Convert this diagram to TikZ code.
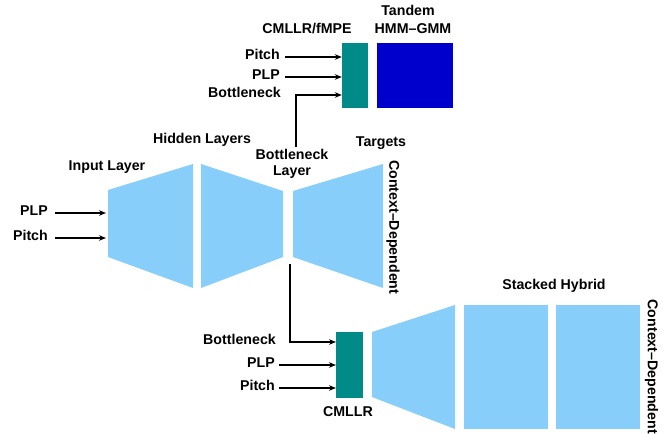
\documentclass[tikz,border=0pt]{standalone}
\usepackage{fontspec}
\setmainfont{Liberation Sans}
\usetikzlibrary{arrows.meta}
\definecolor{layerblue}{RGB}{135,206,250}
\definecolor{xformteal}{RGB}{0,139,136}
\definecolor{gmmblue}{RGB}{0,0,205}

\begin{document}
\begin{tikzpicture}[x=1pt, y=-1pt]
    \tikzset{lbl/.style={font=\bfseries\fontsize{14.2}{17}\selectfont, inner sep=2pt, anchor=mid},
             layer/.style={fill=layerblue},
             box/.style={inner sep=0pt, minimum height=65pt},
             conn/.style={line width=1.3pt, -{Stealth[length=7pt,width=5.5pt]}}} %% styles
    \useasboundingbox (0,0) rectangle (670,434);

    %% bottleneck network
    \fill[layer] (108,190) -- (193,164) -- (193,288) -- (108,257) -- cycle;
    \fill[layer] (201,164) -- (283,191) -- (283,257) -- (201,288) -- cycle;
    \fill[layer] (293,191) -- (383,164) -- (383,288) -- (293,257) -- cycle;
    \coordinate (inEdge) at (106,0);
    \coordinate (bnTop) at (296,147);
    \coordinate (bnBot) at (290,264);

    \node[lbl] (inlab) at (107,168) {Input Layer};
    \node[lbl] (hidlab) at (202,141) {Hidden Layers};
    \node[lbl] (bnlab) at (292,157) {Bottleneck};
    \node[lbl] (bnlab2) at (292,173) {Layer};
    \node[lbl] (tgtlab) at (381,144) {Targets};
    \node[lbl, rotate=-90, anchor=mid west] (cdlab) at (392,158) {Context–Dependent};

    \foreach \name/\y in {PLP/213, Pitch/238} {
            \node[lbl, anchor=mid east] (in\name) at (50,\y) {\name};
            \draw[conn, shorten <=5pt] (in\name.mid east) -- (in\name.mid east -| inEdge);
    }

    %% tandem system
    \node[box, fill=xformteal, minimum width=26pt] (fmpe) at (355,75.5) {};
    \node[box, fill=gmmblue, minimum width=76pt] (gmm) at (414.5,75.5) {};
    \node[lbl] (fmpelab) at (307,31) {CMLLR/fMPE};
    \node[lbl] (tandemlab) at (408,12.5) {Tandem};
    \node[lbl] (gmmlab) at (413,31) {HMM–GMM};

    \foreach \name/\y in {Pitch/57, PLP/77} {
            \node[lbl, anchor=mid east] (top\name) at (282,\y) {\name};
            \draw[conn, shorten <=3pt] (top\name.mid east) -- (top\name.mid east -| fmpe.west);
    }
    \node[lbl, anchor=mid east] (topBn) at (283,95) {Bottleneck};
    \draw[conn] (bnTop) |- (topBn.mid east -| fmpe.west);

    %% stacked hybrid system
    \node[box, fill=xformteal, minimum width=27pt, minimum height=66pt] (cmllr) at (349.7,364.5) {};
    \node[lbl] (cmllrlab) at (348,414) {CMLLR};
    \fill[layer] (372,332) -- (455,305) -- (455,429) -- (372,397) -- cycle;
    \foreach \x in {464,556}
            \fill[layer] (\x,305) rectangle ++(84,124);
    \node[lbl] (hyblab) at (554,287) {Stacked Hybrid};
    \node[lbl, rotate=-90, anchor=mid west, inner sep=0pt] (cdlab2) at (650.5,299.5) {Context–Dependent};

    \foreach \name/\y in {PLP/365, Pitch/388} {
            \node[lbl, anchor=mid east] (bot\name) at (277,\y) {\name};
            \draw[conn, shorten <=2pt] (bot\name.mid east) -- (bot\name.mid east -| cmllr.west);
    }
    \node[lbl, anchor=mid east] (botBn) at (278,342) {Bottleneck};
    \draw[conn] (bnBot) |- (botBn.mid east -| cmllr.west);
\end{tikzpicture}
\end{document}
